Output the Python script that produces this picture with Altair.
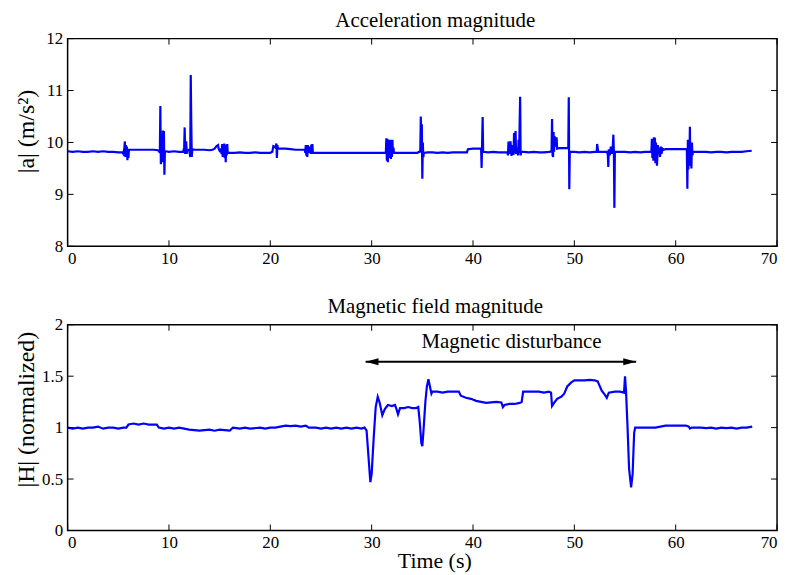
import altair as alt
import pandas as pd

# ---------------- data ----------------
acc_t = [0.0, 0.5, 1.0, 1.5, 2.0, 2.5, 3.0, 3.5, 4.0, 4.5, 5.0, 5.4, 5.5, 5.6, 5.65, 5.7, 5.75, 5.8, 5.85, 5.9,
         5.95, 6.0, 6.05, 6.5, 7.0, 7.5, 8.0, 8.5, 8.9, 9.0, 9.1, 9.15, 9.2, 9.25, 9.3, 9.35, 9.4, 9.45, 9.5, 9.55,
         9.6, 9.7, 10.0, 10.5, 11.0, 11.4, 11.5, 11.55, 11.6, 11.65, 11.7, 11.75, 11.8, 12.0, 12.1, 12.15, 12.2,
         12.25, 12.3, 12.5, 13.0, 13.5, 14.0, 14.3, 14.5, 14.7, 14.85, 14.9, 15.0, 15.1, 15.2, 15.25, 15.3, 15.35,
         15.4, 15.45, 15.5, 15.55, 15.6, 15.65, 15.7, 15.75, 15.8, 15.9, 16.5, 17.0, 17.5, 18.0, 18.5, 19.0, 19.5,
         20.0, 20.2, 20.3, 20.4, 20.5, 20.6, 20.65, 20.7, 20.75, 21.0, 21.5, 22.0, 22.5, 23.0, 23.4, 23.45, 23.5,
         23.55, 23.6, 23.65, 23.7, 23.8, 23.9, 24.0, 24.05, 24.1, 24.15, 24.2, 24.3, 25.0, 26.0, 27.0, 28.0, 29.0,
         30.0, 31.0, 31.4, 31.45, 31.5, 31.55, 31.6, 31.65, 31.7, 31.75, 31.8, 31.85, 31.9, 31.95, 32.0, 32.05,
         32.1, 32.15, 32.2, 32.5, 33.0, 33.5, 34.0, 34.5, 34.7, 34.8, 34.85, 34.9, 34.95, 35.0, 35.05, 35.1, 35.15,
         35.5, 36.0, 36.5, 37.0, 37.5, 38.0, 38.5, 39.0, 39.4, 39.5, 40.0, 40.5, 40.8, 40.85, 40.9, 40.95, 41.0,
         41.5, 42.0, 42.5, 43.0, 43.4, 43.45, 43.5, 43.55, 43.6, 43.65, 43.7, 43.8, 43.9, 44.0, 44.05, 44.1, 44.2,
         44.25, 44.4, 44.45, 44.5, 44.55, 44.65, 44.7, 44.75, 45.0, 45.5, 46.0, 46.5, 47.0, 47.5, 47.75, 47.8,
         47.85, 47.9, 47.95, 48.0, 48.05, 48.15, 48.25, 48.3, 48.5, 49.0, 49.4, 49.45, 49.5, 49.55, 50.0, 50.5,
         51.0, 51.5, 52.0, 52.2, 52.25, 52.3, 52.35, 52.8, 53.2, 53.3, 53.35, 53.4, 53.5, 53.6, 53.7, 53.8, 53.85,
         53.9, 53.95, 54.0, 54.5, 55.0, 55.5, 56.0, 56.5, 57.0, 57.5, 57.6, 57.65, 57.7, 57.75, 57.8, 57.85, 57.9,
         57.95, 58.0, 58.05, 58.15, 58.25, 58.3, 58.4, 58.45, 58.55, 58.6, 58.7, 58.8, 59.0, 59.5, 60.0, 60.5,
         61.0, 61.1, 61.15, 61.2, 61.25, 61.3, 61.35, 61.4, 61.45, 61.5, 61.55, 61.6, 61.65, 61.7, 62.0, 62.5,
         63.0, 63.5, 64.0, 64.5, 65.0, 65.5, 66.0, 66.5, 67.0, 67.5]
acc_v = [9.83, 9.82, 9.83, 9.82, 9.82, 9.83, 9.82, 9.83, 9.82, 9.82, 9.81, 9.81, 9.78, 9.90, 10.02, 9.72, 9.95,
         9.80, 9.92, 9.66, 9.88, 9.70, 9.86, 9.86, 9.86, 9.86, 9.86, 9.86, 9.85, 9.84, 9.80, 10.70, 9.58, 9.85,
         9.72, 9.62, 10.23, 9.70, 10.22, 9.38, 9.82, 9.83, 9.82, 9.83, 9.82, 9.82, 9.90, 10.29, 9.78, 9.85, 10.02,
         9.78, 9.86, 9.86, 9.72, 11.30, 10.40, 9.72, 9.87, 9.86, 9.86, 9.86, 9.85, 9.86, 9.88, 9.93, 9.95, 9.88,
         9.84, 9.86, 9.78, 9.97, 9.72, 9.95, 9.75, 9.98, 9.70, 9.96, 9.62, 9.92, 9.75, 9.97, 9.80, 9.80, 9.80,
         9.81, 9.80, 9.80, 9.81, 9.80, 9.80, 9.80, 9.82, 9.93, 9.92, 9.90, 9.98, 9.70, 9.95, 9.88, 9.88, 9.88,
         9.87, 9.86, 9.86, 9.86, 9.80, 9.95, 9.75, 9.94, 9.72, 9.95, 9.80, 9.92, 9.78, 9.96, 9.82, 9.97, 9.80,
         9.80, 9.80, 9.80, 9.80, 9.80, 9.80, 9.80, 9.80, 9.80, 10.08, 9.65, 10.07, 9.62, 9.98, 9.70, 10.05, 9.75,
         9.95, 9.68, 10.05, 9.72, 10.05, 9.78, 9.90, 9.80, 9.80, 9.80, 9.80, 9.80, 9.80, 9.82, 9.85, 10.50, 9.80,
         10.35, 9.30, 10.00, 9.72, 9.80, 9.81, 9.81, 9.80, 9.81, 9.80, 9.81, 9.81, 9.81, 9.81, 9.87, 9.88, 9.88,
         9.88, 9.51, 10.00, 10.49, 9.82, 9.81, 9.82, 9.81, 9.81, 9.81, 9.75, 10.02, 9.85, 10.01, 9.78, 10.02,
         9.74, 9.95, 9.76, 10.18, 9.80, 10.22, 9.78, 9.90, 9.75, 10.05, 9.80, 10.88, 9.75, 9.82, 9.82, 9.81, 9.82,
         9.81, 9.81, 9.82, 9.83, 10.45, 9.75, 9.72, 10.20, 9.82, 10.12, 9.92, 10.10, 9.88, 9.89, 9.89, 9.89,
         10.87, 9.10, 9.82, 9.82, 9.81, 9.82, 9.81, 9.82, 9.82, 9.97, 9.90, 9.82, 9.82, 9.82, 9.77, 9.53, 9.87,
         9.75, 9.92, 9.78, 9.95, 10.15, 9.82, 8.74, 9.82, 9.82, 9.82, 9.81, 9.82, 9.81, 9.82, 9.82, 9.82, 10.07,
         9.70, 10.05, 9.65, 10.10, 9.72, 10.09, 9.60, 10.00, 9.55, 9.95, 9.78, 9.90, 9.72, 9.92, 9.78, 9.88, 9.86,
         9.87, 9.87, 9.87, 9.87, 9.87, 9.86, 9.11, 10.05, 9.48, 10.00, 9.55, 10.30, 9.55, 9.95, 9.50, 10.00, 9.75,
         9.82, 9.82, 9.82, 9.82, 9.81, 9.82, 9.82, 9.81, 9.82, 9.82, 9.82, 9.83, 9.84]

mag_t = [0, 0.5, 1, 1.5, 2, 2.5, 3.0, 3.5, 4, 4.5, 5, 5.5, 5.8, 6.0, 6.5, 7.0, 7.5, 8.0, 8.5, 8.8, 9.0, 9.5, 10,
         10.5, 11, 11.5, 12, 12.5, 13, 13.5, 14, 14.5, 15, 15.5, 16, 16.3, 17, 17.5, 18, 19, 19.5, 20, 20.5, 21,
         21.5, 22, 22.5, 23, 23.5, 23.8, 24.5, 25, 25.5, 26, 26.5, 27, 27.5, 28, 28.5, 29, 29.3, 29.5, 29.7, 29.87,
         30.0, 30.2, 30.4, 30.6, 30.8, 31.05, 31.3, 31.6, 32.0, 32.3, 32.45, 32.6, 32.8, 33.2, 33.6, 34.0, 34.4,
         34.6, 34.75, 34.9, 35.0, 35.1, 35.3, 35.45, 35.6, 35.75, 35.9, 36.0, 36.5, 37.0, 37.5, 38.0, 38.6, 38.8,
         39.3, 39.8, 40.3, 40.8, 41.3, 41.8, 42.3, 42.8, 42.95, 43.1, 43.6, 44.1, 44.6, 44.8, 44.95, 45.5, 46.0,
         46.5, 47.0, 47.5, 47.7, 47.8, 48.0, 48.3, 48.7, 49.0, 49.3, 49.7, 50.0, 50.5, 51.0, 51.5, 52.0, 52.3,
         52.7, 53.0, 53.2, 53.4, 54.0, 54.5, 54.9, 55.0, 55.1, 55.25, 55.4, 55.6, 55.75, 55.9, 56.0, 56.5, 57,
         57.5, 58, 58.5, 59, 59.5, 60, 60.5, 61.0, 61.3, 61.4, 61.6, 62.0, 62.5, 63, 63.5, 64, 64.5, 65, 65.5, 66,
         66.5, 67, 67.55]
mag_v = [1.0, 0.99, 1.0, 0.99, 1.0, 1.0, 1.01, 0.99, 1.0, 1.0, 0.99, 1.0, 1.0, 1.03, 1.04, 1.03, 1.04, 1.03,
         1.03, 1.03, 1.0, 0.99, 1.0, 0.99, 1.0, 0.99, 0.98, 0.975, 0.97, 0.975, 0.98, 0.97, 0.98, 0.975, 0.97,
         1.0, 0.99, 1.0, 0.99, 1.0, 0.99, 1.0, 1.0, 1.01, 1.02, 1.015, 1.02, 1.01, 1.02, 1.0, 1.0, 0.99, 1.0, 0.99,
         1.0, 0.99, 1.0, 0.99, 1.0, 0.99, 1.0, 0.97, 0.7, 0.47, 0.55, 0.9, 1.2, 1.30, 1.24, 1.12, 1.18, 1.22, 1.21,
         1.22, 1.18, 1.13, 1.19, 1.19, 1.2, 1.19, 1.19, 1.2, 1.05, 0.85, 0.82, 0.95, 1.25, 1.40, 1.47, 1.40, 1.33,
         1.35, 1.35, 1.34, 1.35, 1.35, 1.35, 1.31, 1.29, 1.28, 1.26, 1.25, 1.24, 1.245, 1.25, 1.245, 1.20, 1.22,
         1.23, 1.23, 1.24, 1.25, 1.35, 1.35, 1.35, 1.35, 1.34, 1.35, 1.34, 1.21, 1.24, 1.28, 1.30, 1.33, 1.40,
         1.44, 1.46, 1.46, 1.46, 1.465, 1.46, 1.45, 1.36, 1.32, 1.29, 1.34, 1.35, 1.35, 1.34, 1.50, 1.35, 1.0, 0.6,
         0.42, 0.55, 0.95, 1.0, 1.0, 1.0, 1.0, 1.0, 1.01, 1.02, 1.02, 1.02, 1.02, 1.02, 1.01, 0.99, 1.0, 1.0, 1.0,
         0.995, 1.0, 0.99, 1.0, 0.995, 1.0, 0.99, 1.0, 1.0, 1.01]

x_ticks = [0, 10, 20, 30, 40, 50, 60, 70]
acc_ticks = [8, 9, 10, 11, 12]
mag_ticks = [0, 0.5, 1, 1.5, 2]

arrow_start, arrow_end, arrow_level = 29.4, 56.1, 1.64
note_text, note_t, note_level = "Magnetic disturbance", 43.8, 1.835

# ---------------- chart ----------------
FONT = "Liberation Serif"
W = 714
BLUE = "#0000ff"


def panel(t, v, ydomain, yticks, ytitle, title, h, title_y, xtitle=None):
    df = pd.DataFrame({"t": t, "v": v})
    xs = alt.Scale(domain=[0, 70], nice=False, zero=False)
    ys = alt.Scale(domain=ydomain, nice=False, zero=False)
    xaxis_kw = dict(values=x_ticks, labelPadding=4, labelFontSize=17, grid=False, ticks=False,
                    domain=False, labelFont=FONT, labelColor="black")
    if xtitle:
        xaxis_kw.update(title=xtitle, titleFontSize=22, titleX=369, titleY=37,
                        titleAlign="center", titleBaseline="alphabetic", titleFont=FONT,
                        titleFontWeight="normal", titleColor="black")
    else:
        xaxis_kw.update(title=None)
    xaxis = alt.Axis(**xaxis_kw)
    yaxis = alt.Axis(values=yticks, format="~g", labelPadding=5, labelFontSize=17, grid=False,
                     ticks=False, domain=False, labelFont=FONT, labelColor="black",
                     title=ytitle, titleFontSize=24, titleAngle=270, titleX=-41, titleY=title_y,
                     titleAlign="center", titleBaseline="middle", titleFont=FONT,
                     titleFontWeight="normal", titleColor="black")
    X = lambda f: alt.X(f, scale=xs, axis=xaxis)
    Y = lambda f: alt.Y(f, scale=ys, axis=yaxis)
    line = alt.Chart(df).mark_line(color=BLUE, strokeWidth=2.2).encode(x=X("t:Q"), y=Y("v:Q"))
    xt = pd.DataFrame({"t": x_ticks})
    yt = pd.DataFrame({"v": yticks})
    tb = alt.Chart(xt).mark_rule(color="black", strokeWidth=1).encode(
        x=X("t:Q"), y=alt.value(h), y2=alt.value(h - 6))
    tt = alt.Chart(xt).mark_rule(color="black", strokeWidth=1).encode(
        x=X("t:Q"), y=alt.value(0), y2=alt.value(6))
    tl = alt.Chart(yt).mark_rule(color="black", strokeWidth=1).encode(
        y=Y("v:Q"), x=alt.value(0), x2=alt.value(6))
    tr = alt.Chart(yt).mark_rule(color="black", strokeWidth=1).encode(
        y=Y("v:Q"), x=alt.value(W), x2=alt.value(W - 6))
    layers = [line, tb, tt, tl, tr]
    props = dict(width=W, height=h,
                 title=alt.Title(title, fontSize=21, font=FONT, fontWeight="normal",
                                 color="black", dx=13, offset=-1))
    return layers, X, Y, props


top_layers, _, _, top_props = panel(acc_t, acc_v, [8, 12], acc_ticks, "|a| (m/s²)",
                                    "Acceleration magnitude", 209, 93)
top = alt.layer(*top_layers).properties(**top_props)

bot_layers, X, Y, bot_props = panel(mag_t, mag_v, [0, 2], mag_ticks, "|H| (normalized)",
                                    "Magnetic field magnitude", 207, 85, xtitle="Time (s)")

arrow_df = pd.DataFrame({"t": [arrow_start], "t1": [arrow_end], "v": [arrow_level]})
arrow_line = alt.Chart(arrow_df).mark_rule(color="black", strokeWidth=2).encode(
    x=X("t:Q"), x2="t1:Q", y=Y("v:Q"))
head_l = alt.Chart(pd.DataFrame({"t": [arrow_start], "v": [arrow_level]})).mark_point(
    shape="M0,0 L2,-0.55 L2,0.55 Z", filled=True, color="black", opacity=1, size=169).encode(
    x=X("t:Q"), y=Y("v:Q"))
head_r = alt.Chart(pd.DataFrame({"t": [arrow_end], "v": [arrow_level]})).mark_point(
    shape="M0,0 L-2,-0.55 L-2,0.55 Z", filled=True, color="black", opacity=1, size=169).encode(
    x=X("t:Q"), y=Y("v:Q"))
note = alt.Chart(pd.DataFrame({"t": [note_t], "v": [note_level], "s": [note_text]})).mark_text(
    font=FONT, fontSize=21, color="black", align="center", baseline="middle").encode(
    x=X("t:Q"), y=Y("v:Q"), text="s:N")

bottom = alt.layer(*bot_layers, arrow_line, head_l, head_r, note).properties(**bot_props)

chart = alt.vconcat(top, bottom, spacing=28).properties(
    padding={"left": 6, "top": -1, "right": 5, "bottom": 0}, background="white"
).configure_view(stroke="black", strokeWidth=1.5).configure_axis(
    labelFont=FONT, titleFont=FONT, labelColor="black", titleColor="black"
)

chart.save("out.html", embed_options={"renderer": "svg", "actions": False})
